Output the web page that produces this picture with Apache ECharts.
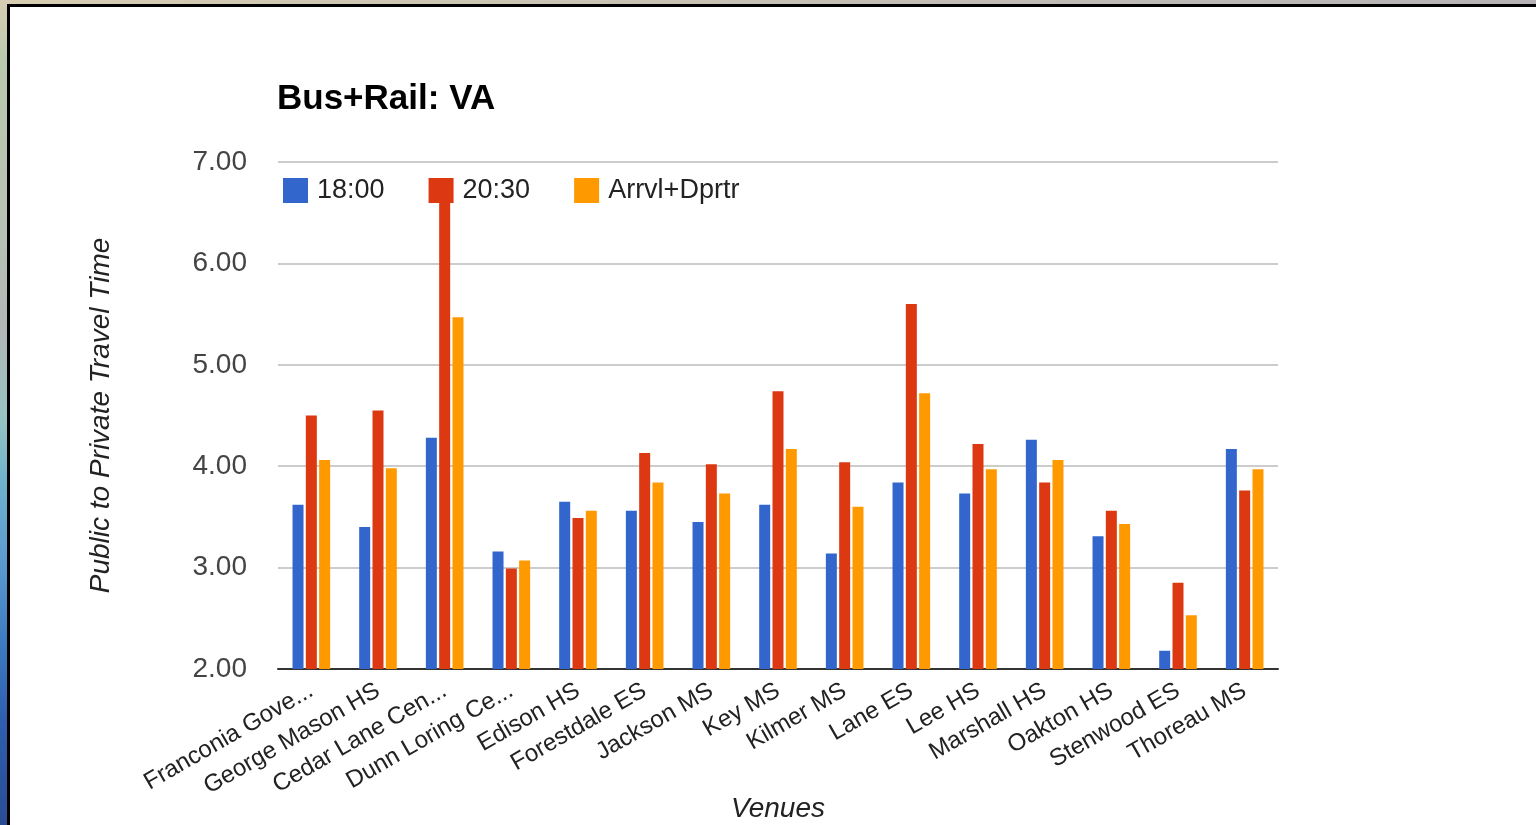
<!DOCTYPE html>
<html>
<head>
<meta charset="utf-8">
<title>Bus+Rail: VA</title>
<script src="https://cdn.jsdelivr.net/npm/echarts@6/dist/echarts.min.js"></script>
<style>
  html, body { margin: 0; padding: 0; width: 1536px; height: 825px; overflow: hidden; }
  #backdrop {
    position: absolute; left: 0; top: 0; width: 1536px; height: 825px;
    background:
      linear-gradient(90deg, rgba(200,195,170,0.0) 0%, rgba(120,130,190,0.35) 100%),
      linear-gradient(180deg, #d8cdb2 0px, #b9c9ae 60px, #b6c0b4 250px, #b2b6b6 330px,
                      #96c4c2 420px, #6fb2cc 480px, #5a9cd0 560px, #3d7cc2 640px,
                      #2e5fae 720px, #2a4c94 825px);
  }
  #sheet {
    position: absolute; left: 7px; top: 4px; right: 0; bottom: 0;
    background: #ffffff;
    border-left: 3px solid #000; border-top: 3px solid #000;
  }
  #chart { position: absolute; left: 0; top: 0; width: 1536px; height: 825px; }
</style>
</head>
<body>
<div id="backdrop"></div>
<div id="sheet"></div>
<div id="chart"></div>
<script>
// Venue names as shown on the category axis
const venues = [
  'Franconia Gove...', 'George Mason HS', 'Cedar Lane Cen...', 'Dunn Loring Ce...',
  'Edison HS', 'Forestdale ES', 'Jackson MS', 'Key MS', 'Kilmer MS', 'Lane ES',
  'Lee HS', 'Marshall HS', 'Oakton HS', 'Stenwood ES', 'Thoreau MS'
];

// Ratio of public to private travel time, per venue
const at1800 = [3.62, 3.40, 4.28, 3.16, 3.65, 3.56, 3.45, 3.62, 3.14, 3.84, 3.73, 4.26, 3.31, 2.18, 4.17];
const at2030 = [4.50, 4.55, 6.65, 2.99, 3.49, 4.13, 4.02, 4.74, 4.04, 5.60, 4.22, 3.84, 3.56, 2.85, 3.76];
const arrvlDprtr = [4.06, 3.98, 5.47, 3.07, 3.56, 3.84, 3.73, 4.17, 3.60, 4.72, 3.97, 4.06, 3.43, 2.53, 3.97];

const seriesNames = ['18:00', '20:30', 'Arrvl+Dprtr'];
const seriesColors = ['#3366cc', '#dc3912', '#ff9900'];

const FONT = '"Liberation Sans", Arial, Helvetica, sans-serif';

const chart = echarts.init(document.getElementById('chart'), null, { renderer: 'canvas' });

const barSeries = [at1800, at2030, arrvlDprtr].map((vals, i) => ({
  name: seriesNames[i],
  type: 'bar',
  data: vals,
  barWidth: 11,
  barGap: '21%',
  itemStyle: { color: seriesColors[i] },
  emphasis: { disabled: true }
}));

chart.setOption({
  animation: false,
  backgroundColor: 'transparent',
  color: seriesColors,
  title: {
    text: 'Bus+Rail: VA',
    left: 272,
    top: 77,
    textStyle: { fontFamily: FONT, fontSize: 35, fontWeight: 'bold', color: '#000' }
  },
  legend: {
    left: 278,
    top: 172,
    icon: 'rect',
    itemWidth: 25,
    itemHeight: 25,
    itemGap: 44,
    textStyle: { fontFamily: FONT, fontSize: 27, color: '#222', padding: [0, 0, 0, 4] },
    data: seriesNames
  },
  grid: {
    left: 278, right: 258, top: 162, bottom: 156,
    containLabel: false,
    outerBoundsMode: 'none'
  },
  xAxis: {
    type: 'category',
    data: venues,
    name: 'Venues',
    nameLocation: 'middle',
    nameGap: 126,
    nameMoveOverlap: false,
    nameTextStyle: { fontFamily: FONT, fontSize: 28, fontStyle: 'italic', color: '#222' },
    axisLine: { lineStyle: { color: '#333', width: 2 } },
    axisTick: { show: false },
    axisLabel: {
      interval: 0,
      rotate: 30,
      margin: 20,
      fontFamily: FONT,
      fontSize: 24,
      color: '#222'
    }
  },
  yAxis: {
    type: 'value',
    min: 2,
    max: 7,
    interval: 1,
    name: 'Public to Private Travel Time',
    nameLocation: 'middle',
    nameGap: 163,
    nameRotate: 90,
    nameTextStyle: { fontFamily: FONT, fontSize: 28, fontStyle: 'italic', color: '#222' },
    axisLine: { show: false },
    axisTick: { show: false },
    splitLine: { lineStyle: { color: '#cccccc', width: 2 } },
    axisLabel: {
      margin: 31,
      fontFamily: FONT,
      fontSize: 28,
      color: '#444',
      formatter: v => v.toFixed(2)
    }
  },
  series: barSeries
});
</script>
</body>
</html>
